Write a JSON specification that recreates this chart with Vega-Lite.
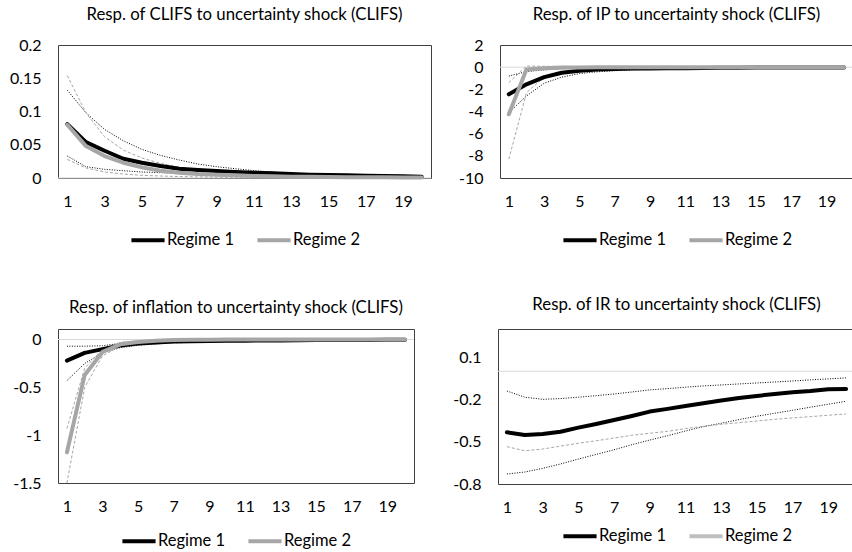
{
  "$schema": "https://vega.github.io/schema/vega-lite/v6.json",
  "padding": {"left": 0, "top": 6, "right": 0, "bottom": 0},
  "background": "#ffffff",
  "config": {
    "font": "Lato",
    "view": {"stroke": "#404040", "strokeWidth": 1},
    "style": {"cell": {"stroke": "#404040", "strokeWidth": 1}},
    "axis": {"grid": false, "ticks": false, "domain": false, "labelFont": "Lato", "labelFontSize": 16, "labelColor": "#000000"},
    "title": {"font": "Lato", "fontSize": 16.8, "fontWeight": "normal", "color": "#000000", "anchor": "middle", "frame": "group"},
    "legend": {"orient": "bottom", "direction": "horizontal", "title": null, "symbolType": "stroke", "symbolSize": 1100, "symbolStrokeWidth": 4, "labelFont": "Lato", "labelFontSize": 16.5, "labelColor": "#000000", "columnPadding": 14, "labelOffset": 0, "layout": {"bottom": {"anchor": "middle"}}}
  },
  "datasets": {
    "irf": [
      {"p": "CLIFS", "h": 1, "r1": 0.081, "r2": 0.080, "r1lo": 0.033, "r1hi": 0.132, "r2lo": 0.028, "r2hi": 0.154},
      {"p": "CLIFS", "h": 2, "r1": 0.054, "r2": 0.048, "r1lo": 0.017, "r1hi": 0.098, "r2lo": 0.015, "r2hi": 0.098},
      {"p": "CLIFS", "h": 3, "r1": 0.041, "r2": 0.033, "r1lo": 0.013, "r1hi": 0.073, "r2lo": 0.009, "r2hi": 0.062},
      {"p": "CLIFS", "h": 4, "r1": 0.029, "r2": 0.023, "r1lo": 0.011, "r1hi": 0.056, "r2lo": 0.006, "r2hi": 0.042},
      {"p": "CLIFS", "h": 5, "r1": 0.023, "r2": 0.016, "r1lo": 0.009, "r1hi": 0.043, "r2lo": 0.004, "r2hi": 0.030},
      {"p": "CLIFS", "h": 6, "r1": 0.018, "r2": 0.011, "r1lo": 0.008, "r1hi": 0.034, "r2lo": 0.003, "r2hi": 0.022},
      {"p": "CLIFS", "h": 7, "r1": 0.014, "r2": 0.008, "r1lo": 0.007, "r1hi": 0.027, "r2lo": 0.0022, "r2hi": 0.016},
      {"p": "CLIFS", "h": 8, "r1": 0.012, "r2": 0.006, "r1lo": 0.0065, "r1hi": 0.021, "r2lo": 0.0017, "r2hi": 0.012},
      {"p": "CLIFS", "h": 9, "r1": 0.0105, "r2": 0.005, "r1lo": 0.006, "r1hi": 0.017, "r2lo": 0.0013, "r2hi": 0.009},
      {"p": "CLIFS", "h": 10, "r1": 0.009, "r2": 0.004, "r1lo": 0.0055, "r1hi": 0.014, "r2lo": 0.001, "r2hi": 0.007},
      {"p": "CLIFS", "h": 11, "r1": 0.008, "r2": 0.003, "r1lo": 0.005, "r1hi": 0.011, "r2lo": 0.0008, "r2hi": 0.0055},
      {"p": "CLIFS", "h": 12, "r1": 0.007, "r2": 0.0025, "r1lo": 0.0045, "r1hi": 0.009, "r2lo": 0.0007, "r2hi": 0.0045},
      {"p": "CLIFS", "h": 13, "r1": 0.006, "r2": 0.002, "r1lo": 0.004, "r1hi": 0.007, "r2lo": 0.0006, "r2hi": 0.0035},
      {"p": "CLIFS", "h": 14, "r1": 0.005, "r2": 0.0018, "r1lo": 0.0035, "r1hi": 0.006, "r2lo": 0.0005, "r2hi": 0.003},
      {"p": "CLIFS", "h": 15, "r1": 0.0045, "r2": 0.0015, "r1lo": 0.003, "r1hi": 0.005, "r2lo": 0.0004, "r2hi": 0.0025},
      {"p": "CLIFS", "h": 16, "r1": 0.004, "r2": 0.0013, "r1lo": 0.003, "r1hi": 0.005, "r2lo": 0.0004, "r2hi": 0.002},
      {"p": "CLIFS", "h": 17, "r1": 0.0035, "r2": 0.0011, "r1lo": 0.0025, "r1hi": 0.004, "r2lo": 0.0003, "r2hi": 0.002},
      {"p": "CLIFS", "h": 18, "r1": 0.003, "r2": 0.001, "r1lo": 0.002, "r1hi": 0.004, "r2lo": 0.0003, "r2hi": 0.0015},
      {"p": "CLIFS", "h": 19, "r1": 0.0025, "r2": 0.0009, "r1lo": 0.002, "r1hi": 0.003, "r2lo": 0.0002, "r2hi": 0.0015},
      {"p": "CLIFS", "h": 20, "r1": 0.002, "r2": 0.0008, "r1lo": 0.0015, "r1hi": 0.003, "r2lo": 0.0002, "r2hi": 0.001},

      {"p": "IP", "h": 1, "r1": -2.45, "r2": -4.25, "r1lo": -4.1, "r1hi": -0.8, "r2lo": -8.3, "r2hi": -1.4},
      {"p": "IP", "h": 2, "r1": -1.55, "r2": -0.2, "r1lo": -2.6, "r1hi": -0.4, "r2lo": -2.3, "r2hi": 0.1},
      {"p": "IP", "h": 3, "r1": -0.9, "r2": -0.1, "r1lo": -1.45, "r1hi": -0.25, "r2lo": -0.9, "r2hi": 0.08},
      {"p": "IP", "h": 4, "r1": -0.5, "r2": -0.03, "r1lo": -0.9, "r1hi": -0.15, "r2lo": -0.45, "r2hi": 0.06},
      {"p": "IP", "h": 5, "r1": -0.32, "r2": -0.02, "r1lo": -0.58, "r1hi": -0.1, "r2lo": -0.3, "r2hi": 0.05},
      {"p": "IP", "h": 6, "r1": -0.22, "r2": -0.01, "r1lo": -0.42, "r1hi": -0.07, "r2lo": -0.22, "r2hi": 0.04},
      {"p": "IP", "h": 7, "r1": -0.16, "r2": -0.01, "r1lo": -0.32, "r1hi": -0.05, "r2lo": -0.16, "r2hi": 0.03},
      {"p": "IP", "h": 8, "r1": -0.13, "r2": 0, "r1lo": -0.25, "r1hi": -0.04, "r2lo": -0.12, "r2hi": 0.03},
      {"p": "IP", "h": 9, "r1": -0.11, "r2": 0, "r1lo": -0.2, "r1hi": -0.03, "r2lo": -0.1, "r2hi": 0.02},
      {"p": "IP", "h": 10, "r1": -0.1, "r2": 0, "r1lo": -0.17, "r1hi": -0.03, "r2lo": -0.08, "r2hi": 0.02},
      {"p": "IP", "h": 11, "r1": -0.09, "r2": 0, "r1lo": -0.14, "r1hi": -0.02, "r2lo": -0.07, "r2hi": 0.02},
      {"p": "IP", "h": 12, "r1": -0.07, "r2": 0, "r1lo": -0.12, "r1hi": -0.02, "r2lo": -0.06, "r2hi": 0.01},
      {"p": "IP", "h": 13, "r1": -0.06, "r2": 0, "r1lo": -0.1, "r1hi": -0.02, "r2lo": -0.05, "r2hi": 0.01},
      {"p": "IP", "h": 14, "r1": -0.05, "r2": 0, "r1lo": -0.09, "r1hi": -0.01, "r2lo": -0.04, "r2hi": 0.01},
      {"p": "IP", "h": 15, "r1": -0.04, "r2": 0, "r1lo": -0.08, "r1hi": -0.01, "r2lo": -0.04, "r2hi": 0.01},
      {"p": "IP", "h": 16, "r1": -0.035, "r2": 0, "r1lo": -0.07, "r1hi": -0.01, "r2lo": -0.03, "r2hi": 0.01},
      {"p": "IP", "h": 17, "r1": -0.03, "r2": 0, "r1lo": -0.06, "r1hi": -0.01, "r2lo": -0.03, "r2hi": 0.01},
      {"p": "IP", "h": 18, "r1": -0.025, "r2": 0, "r1lo": -0.05, "r1hi": -0.01, "r2lo": -0.02, "r2hi": 0.01},
      {"p": "IP", "h": 19, "r1": -0.02, "r2": 0, "r1lo": -0.05, "r1hi": -0.005, "r2lo": -0.02, "r2hi": 0.005},
      {"p": "IP", "h": 20, "r1": -0.02, "r2": 0, "r1lo": -0.04, "r1hi": -0.005, "r2lo": -0.02, "r2hi": 0.005},

      {"p": "INF", "h": 1, "r1": -0.22, "r2": -1.18, "r1lo": -0.43, "r1hi": -0.07, "r2lo": -1.5, "r2hi": -0.93},
      {"p": "INF", "h": 2, "r1": -0.14, "r2": -0.37, "r1lo": -0.25, "r1hi": -0.07, "r2lo": -0.5, "r2hi": -0.3},
      {"p": "INF", "h": 3, "r1": -0.1, "r2": -0.13, "r1lo": -0.14, "r1hi": -0.065, "r2lo": -0.17, "r2hi": -0.1},
      {"p": "INF", "h": 4, "r1": -0.063, "r2": -0.05, "r1lo": -0.085, "r1hi": -0.04, "r2lo": -0.07, "r2hi": -0.03},
      {"p": "INF", "h": 5, "r1": -0.042, "r2": -0.025, "r1lo": -0.06, "r1hi": -0.025, "r2lo": -0.035, "r2hi": -0.012},
      {"p": "INF", "h": 6, "r1": -0.03, "r2": -0.012, "r1lo": -0.045, "r1hi": -0.015, "r2lo": -0.018, "r2hi": -0.005},
      {"p": "INF", "h": 7, "r1": -0.022, "r2": -0.006, "r1lo": -0.035, "r1hi": -0.01, "r2lo": -0.01, "r2hi": -0.002},
      {"p": "INF", "h": 8, "r1": -0.018, "r2": -0.003, "r1lo": -0.03, "r1hi": -0.008, "r2lo": -0.006, "r2hi": -0.001},
      {"p": "INF", "h": 9, "r1": -0.015, "r2": -0.002, "r1lo": -0.025, "r1hi": -0.006, "r2lo": -0.004, "r2hi": 0},
      {"p": "INF", "h": 10, "r1": -0.013, "r2": -0.001, "r1lo": -0.02, "r1hi": -0.005, "r2lo": -0.003, "r2hi": 0},
      {"p": "INF", "h": 11, "r1": -0.012, "r2": 0, "r1lo": -0.018, "r1hi": -0.005, "r2lo": -0.002, "r2hi": 0},
      {"p": "INF", "h": 12, "r1": -0.011, "r2": 0, "r1lo": -0.016, "r1hi": -0.004, "r2lo": -0.002, "r2hi": 0},
      {"p": "INF", "h": 13, "r1": -0.01, "r2": 0, "r1lo": -0.014, "r1hi": -0.004, "r2lo": -0.001, "r2hi": 0},
      {"p": "INF", "h": 14, "r1": -0.008, "r2": 0, "r1lo": -0.012, "r1hi": -0.003, "r2lo": -0.001, "r2hi": 0},
      {"p": "INF", "h": 15, "r1": -0.006, "r2": 0, "r1lo": -0.01, "r1hi": -0.003, "r2lo": -0.001, "r2hi": 0},
      {"p": "INF", "h": 16, "r1": -0.005, "r2": 0, "r1lo": -0.009, "r1hi": -0.002, "r2lo": 0, "r2hi": 0},
      {"p": "INF", "h": 17, "r1": -0.004, "r2": 0, "r1lo": -0.008, "r1hi": -0.002, "r2lo": 0, "r2hi": 0},
      {"p": "INF", "h": 18, "r1": -0.004, "r2": 0, "r1lo": -0.007, "r1hi": -0.002, "r2lo": 0, "r2hi": 0},
      {"p": "INF", "h": 19, "r1": -0.003, "r2": 0, "r1lo": -0.006, "r1hi": -0.001, "r2lo": 0, "r2hi": 0},
      {"p": "INF", "h": 20, "r1": -0.003, "r2": 0, "r1lo": -0.005, "r1hi": -0.001, "r2lo": 0, "r2hi": 0},

      {"p": "IR", "h": 1, "r1": -0.433, "r1lo": -0.729, "r1hi": -0.14, "r2lo": -0.535},
      {"p": "IR", "h": 2, "r1": -0.452, "r1lo": -0.715, "r1hi": -0.184, "r2lo": -0.564},
      {"p": "IR", "h": 3, "r1": -0.445, "r1lo": -0.689, "r1hi": -0.199, "r2lo": -0.552},
      {"p": "IR", "h": 4, "r1": -0.429, "r1lo": -0.658, "r1hi": -0.194, "r2lo": -0.531},
      {"p": "IR", "h": 5, "r1": -0.4, "r1lo": -0.623, "r1hi": -0.184, "r2lo": -0.511},
      {"p": "IR", "h": 6, "r1": -0.374, "r1lo": -0.59, "r1hi": -0.173, "r2lo": -0.493},
      {"p": "IR", "h": 7, "r1": -0.346, "r1lo": -0.557, "r1hi": -0.161, "r2lo": -0.474},
      {"p": "IR", "h": 8, "r1": -0.317, "r1lo": -0.521, "r1hi": -0.147, "r2lo": -0.454},
      {"p": "IR", "h": 9, "r1": -0.286, "r1lo": -0.488, "r1hi": -0.132, "r2lo": -0.44},
      {"p": "IR", "h": 10, "r1": -0.267, "r1lo": -0.457, "r1hi": -0.123, "r2lo": -0.426},
      {"p": "IR", "h": 11, "r1": -0.246, "r1lo": -0.424, "r1hi": -0.113, "r2lo": -0.407},
      {"p": "IR", "h": 12, "r1": -0.227, "r1lo": -0.393, "r1hi": -0.104, "r2lo": -0.391},
      {"p": "IR", "h": 13, "r1": -0.208, "r1lo": -0.369, "r1hi": -0.097, "r2lo": -0.376},
      {"p": "IR", "h": 14, "r1": -0.189, "r1lo": -0.343, "r1hi": -0.09, "r2lo": -0.365},
      {"p": "IR", "h": 15, "r1": -0.175, "r1lo": -0.319, "r1hi": -0.083, "r2lo": -0.353},
      {"p": "IR", "h": 16, "r1": -0.161, "r1lo": -0.298, "r1hi": -0.076, "r2lo": -0.341},
      {"p": "IR", "h": 17, "r1": -0.149, "r1lo": -0.277, "r1hi": -0.069, "r2lo": -0.331},
      {"p": "IR", "h": 18, "r1": -0.14, "r1lo": -0.255, "r1hi": -0.061, "r2lo": -0.322},
      {"p": "IR", "h": 19, "r1": -0.128, "r1lo": -0.234, "r1hi": -0.054, "r2lo": -0.312},
      {"p": "IR", "h": 20, "r1": -0.125, "r1lo": -0.213, "r1hi": -0.047, "r2lo": -0.303}
    ]
  },
  "resolve": {"scale": {"color": "independent", "x": "independent", "y": "independent"}, "legend": {"color": "independent"}},
  "spacing": 46,
  "vconcat": [
    {
      "spacing": 22,
      "resolve": {"scale": {"color": "independent", "x": "independent", "y": "independent"}, "legend": {"color": "independent"}},
      "hconcat": [
        {
          "width": 373, "height": 133,
          "view": {"stroke": "#404040", "strokeWidth": 1},
          "title": {"text": "Resp. of CLIFS to uncertainty shock (CLIFS)", "offset": 13, "fontSize": 16.8, "font": "Lato", "fontWeight": "normal", "color": "#000000", "anchor": "middle", "frame": "group"},
          "data": {"name": "irf"},
          "transform": [{"filter": "datum.p === 'CLIFS'"}, {"fold": ["r1", "r2", "r1lo", "r1hi", "r2lo", "r2hi"], "as": ["s", "v"]}],
          "layer": [
            {"transform": [{"filter": "datum.h === 1 && datum.s === 'r1'"}],
             "mark": {"type": "rule", "color": "#d9d9d9", "strokeWidth": 1},
             "encoding": {"y": {"datum": 0, "type": "quantitative", "scale": {"domain": [0, 0.2], "nice": false, "zero": false}, "axis": {"title": null, "values": [0, 0.05, 0.1, 0.15, 0.2], "labelPadding": 17, "minExtent": 57, "maxExtent": 57, "labelExpr": "'' + datum.value"}}}},
            {"transform": [{"filter": "datum.s === 'r1lo' || datum.s === 'r1hi'"}],
             "mark": {"type": "line", "color": "#000000", "strokeWidth": 1, "strokeDash": [1, 1.5]},
             "encoding": {
               "x": {"field": "h", "type": "quantitative", "scale": {"domain": [0.5, 20.5], "nice": false, "zero": false}, "axis": {"title": null, "values": [1, 3, 5, 7, 9, 11, 13, 15, 17, 19], "labelPadding": 15, "labelFlush": false, "minExtent": 30, "maxExtent": 30}},
               "y": {"field": "v", "type": "quantitative", "scale": {"domain": [0, 0.2], "nice": false, "zero": false}, "axis": {"title": null, "values": [0, 0.05, 0.1, 0.15, 0.2], "labelPadding": 17, "minExtent": 57, "maxExtent": 57, "labelExpr": "'' + datum.value"}},
               "detail": {"field": "s", "type": "nominal"}}},
            {"transform": [{"filter": "datum.s === 'r2lo' || datum.s === 'r2hi'"}],
             "mark": {"type": "line", "color": "#a6a6a6", "strokeWidth": 1, "strokeDash": [3, 2]},
             "encoding": {
               "x": {"field": "h", "type": "quantitative", "scale": {"domain": [0.5, 20.5], "nice": false, "zero": false}, "axis": {"title": null, "values": [1, 3, 5, 7, 9, 11, 13, 15, 17, 19], "labelPadding": 15, "labelFlush": false, "minExtent": 30, "maxExtent": 30}},
               "y": {"field": "v", "type": "quantitative", "scale": {"domain": [0, 0.2], "nice": false, "zero": false}, "axis": {"title": null, "values": [0, 0.05, 0.1, 0.15, 0.2], "labelPadding": 17, "minExtent": 57, "maxExtent": 57, "labelExpr": "'' + datum.value"}},
               "detail": {"field": "s", "type": "nominal"}}},
            {"transform": [{"filter": "datum.s === 'r1' || datum.s === 'r2'"}],
             "mark": {"type": "line", "strokeWidth": 4, "strokeCap": "round", "strokeJoin": "round"},
             "encoding": {
               "x": {"field": "h", "type": "quantitative", "scale": {"domain": [0.5, 20.5], "nice": false, "zero": false}, "axis": {"title": null, "values": [1, 3, 5, 7, 9, 11, 13, 15, 17, 19], "labelPadding": 15, "labelFlush": false, "minExtent": 30, "maxExtent": 30}},
               "y": {"field": "v", "type": "quantitative", "scale": {"domain": [0, 0.2], "nice": false, "zero": false}, "axis": {"title": null, "values": [0, 0.05, 0.1, 0.15, 0.2], "labelPadding": 17, "minExtent": 57, "maxExtent": 57, "labelExpr": "'' + datum.value"}},
               "color": {"field": "s", "type": "nominal", "scale": {"domain": ["r1", "r2"], "range": ["#000000", "#a6a6a6"]}, "legend": {"offset": 12, "labelExpr": "datum.label === 'r1' ? 'Regime 1' : 'Regime 2'"}}}}
          ]
        },
        {
          "width": 353, "height": 133,
          "view": {"stroke": "#404040", "strokeWidth": 1},
          "title": {"text": "Resp. of IP to uncertainty shock (CLIFS)", "offset": 13, "fontSize": 16.8, "font": "Lato", "fontWeight": "normal", "color": "#000000", "anchor": "middle", "frame": "group"},
          "data": {"name": "irf"},
          "transform": [{"filter": "datum.p === 'IP'"}, {"fold": ["r1", "r2", "r1lo", "r1hi", "r2lo", "r2hi"], "as": ["s", "v"]}],
          "layer": [
            {"transform": [{"filter": "datum.h === 1 && datum.s === 'r1'"}],
             "mark": {"type": "rule", "color": "#d9d9d9", "strokeWidth": 1},
             "encoding": {"y": {"datum": 0, "type": "quantitative", "scale": {"domain": [-10, 2], "nice": false, "zero": false}, "axis": {"title": null, "values": [-10, -8, -6, -4, -2, 0, 2], "labelPadding": 17, "minExtent": 45, "maxExtent": 45, "labelExpr": "'' + datum.value"}}}},
            {"transform": [{"filter": "datum.s === 'r1lo' || datum.s === 'r1hi'"}],
             "mark": {"type": "line", "color": "#000000", "strokeWidth": 1, "strokeDash": [1, 1.5]},
             "encoding": {
               "x": {"field": "h", "type": "quantitative", "scale": {"domain": [0.5, 20.5], "nice": false, "zero": false}, "axis": {"title": null, "values": [1, 3, 5, 7, 9, 11, 13, 15, 17, 19], "labelPadding": 15, "labelFlush": false, "minExtent": 30, "maxExtent": 30}},
               "y": {"field": "v", "type": "quantitative", "scale": {"domain": [-10, 2], "nice": false, "zero": false}, "axis": {"title": null, "values": [-10, -8, -6, -4, -2, 0, 2], "labelPadding": 17, "minExtent": 45, "maxExtent": 45, "labelExpr": "'' + datum.value"}},
               "detail": {"field": "s", "type": "nominal"}}},
            {"transform": [{"filter": "datum.s === 'r2lo' || datum.s === 'r2hi'"}],
             "mark": {"type": "line", "color": "#a6a6a6", "strokeWidth": 1, "strokeDash": [3, 2]},
             "encoding": {
               "x": {"field": "h", "type": "quantitative", "scale": {"domain": [0.5, 20.5], "nice": false, "zero": false}, "axis": {"title": null, "values": [1, 3, 5, 7, 9, 11, 13, 15, 17, 19], "labelPadding": 15, "labelFlush": false, "minExtent": 30, "maxExtent": 30}},
               "y": {"field": "v", "type": "quantitative", "scale": {"domain": [-10, 2], "nice": false, "zero": false}, "axis": {"title": null, "values": [-10, -8, -6, -4, -2, 0, 2], "labelPadding": 17, "minExtent": 45, "maxExtent": 45, "labelExpr": "'' + datum.value"}},
               "detail": {"field": "s", "type": "nominal"}}},
            {"transform": [{"filter": "datum.s === 'r1' || datum.s === 'r2'"}],
             "mark": {"type": "line", "strokeWidth": 4, "strokeCap": "round", "strokeJoin": "round"},
             "encoding": {
               "x": {"field": "h", "type": "quantitative", "scale": {"domain": [0.5, 20.5], "nice": false, "zero": false}, "axis": {"title": null, "values": [1, 3, 5, 7, 9, 11, 13, 15, 17, 19], "labelPadding": 15, "labelFlush": false, "minExtent": 30, "maxExtent": 30}},
               "y": {"field": "v", "type": "quantitative", "scale": {"domain": [-10, 2], "nice": false, "zero": false}, "axis": {"title": null, "values": [-10, -8, -6, -4, -2, 0, 2], "labelPadding": 17, "minExtent": 45, "maxExtent": 45, "labelExpr": "'' + datum.value"}},
               "color": {"field": "s", "type": "nominal", "scale": {"domain": ["r1", "r2"], "range": ["#000000", "#a6a6a6"]}, "legend": {"offset": 12, "labelExpr": "datum.label === 'r1' ? 'Regime 1' : 'Regime 2'"}}}}
          ]
        }
      ]
    },
    {
      "spacing": 37,
      "resolve": {"scale": {"color": "independent", "x": "independent", "y": "independent"}, "legend": {"color": "independent"}},
      "hconcat": [
        {
          "width": 356, "height": 154,
          "view": {"stroke": "#404040", "strokeWidth": 1},
          "title": {"text": "Resp. of inflation to uncertainty shock (CLIFS)", "offset": 12, "fontSize": 16.8, "font": "Lato", "fontWeight": "normal", "color": "#000000", "anchor": "middle", "frame": "group"},
          "data": {"name": "irf"},
          "transform": [{"filter": "datum.p === 'INF'"}, {"fold": ["r1", "r2", "r1lo", "r1hi", "r2lo", "r2hi"], "as": ["s", "v"]}],
          "layer": [
            {"transform": [{"filter": "datum.h === 1 && datum.s === 'r1'"}],
             "mark": {"type": "rule", "color": "#d9d9d9", "strokeWidth": 1},
             "encoding": {"y": {"datum": 0, "type": "quantitative", "scale": {"domain": [-1.5, 0.11], "nice": false, "zero": false}, "axis": {"title": null, "values": [-1.5, -1, -0.5, 0], "labelPadding": 17, "minExtent": 57, "maxExtent": 57, "labelExpr": "'' + datum.value"}}}},
            {"transform": [{"filter": "datum.s === 'r1lo' || datum.s === 'r1hi'"}],
             "mark": {"type": "line", "color": "#000000", "strokeWidth": 1, "strokeDash": [1, 1.5], "clip": true},
             "encoding": {
               "x": {"field": "h", "type": "quantitative", "scale": {"domain": [0.5, 20.5], "nice": false, "zero": false}, "axis": {"title": null, "values": [1, 3, 5, 7, 9, 11, 13, 15, 17, 19], "labelPadding": 15, "labelFlush": false, "minExtent": 30, "maxExtent": 30}},
               "y": {"field": "v", "type": "quantitative", "scale": {"domain": [-1.5, 0.11], "nice": false, "zero": false}, "axis": {"title": null, "values": [-1.5, -1, -0.5, 0], "labelPadding": 17, "minExtent": 57, "maxExtent": 57, "labelExpr": "'' + datum.value"}},
               "detail": {"field": "s", "type": "nominal"}}},
            {"transform": [{"filter": "datum.s === 'r2lo' || datum.s === 'r2hi'"}],
             "mark": {"type": "line", "color": "#a6a6a6", "strokeWidth": 1, "strokeDash": [3, 2], "clip": true},
             "encoding": {
               "x": {"field": "h", "type": "quantitative", "scale": {"domain": [0.5, 20.5], "nice": false, "zero": false}, "axis": {"title": null, "values": [1, 3, 5, 7, 9, 11, 13, 15, 17, 19], "labelPadding": 15, "labelFlush": false, "minExtent": 30, "maxExtent": 30}},
               "y": {"field": "v", "type": "quantitative", "scale": {"domain": [-1.5, 0.11], "nice": false, "zero": false}, "axis": {"title": null, "values": [-1.5, -1, -0.5, 0], "labelPadding": 17, "minExtent": 57, "maxExtent": 57, "labelExpr": "'' + datum.value"}},
               "detail": {"field": "s", "type": "nominal"}}},
            {"transform": [{"filter": "datum.s === 'r1' || datum.s === 'r2'"}],
             "mark": {"type": "line", "strokeWidth": 4, "strokeCap": "round", "strokeJoin": "round"},
             "encoding": {
               "x": {"field": "h", "type": "quantitative", "scale": {"domain": [0.5, 20.5], "nice": false, "zero": false}, "axis": {"title": null, "values": [1, 3, 5, 7, 9, 11, 13, 15, 17, 19], "labelPadding": 15, "labelFlush": false, "minExtent": 30, "maxExtent": 30}},
               "y": {"field": "v", "type": "quantitative", "scale": {"domain": [-1.5, 0.11], "nice": false, "zero": false}, "axis": {"title": null, "values": [-1.5, -1, -0.5, 0], "labelPadding": 17, "minExtent": 57, "maxExtent": 57, "labelExpr": "'' + datum.value"}},
               "color": {"field": "s", "type": "nominal", "scale": {"domain": ["r1", "r2"], "range": ["#000000", "#a6a6a6"]}, "legend": {"offset": 7.5, "labelExpr": "datum.label === 'r1' ? 'Regime 1' : 'Regime 2'"}}}}
          ]
        },
        {
          "width": 357, "height": 155,
          "view": {"stroke": "#404040", "strokeWidth": 1},
          "title": {"text": "Resp. of IR to uncertainty shock (CLIFS)", "offset": 15.5, "fontSize": 16.8, "font": "Lato", "fontWeight": "normal", "color": "#000000", "anchor": "middle", "frame": "group"},
          "data": {"name": "irf"},
          "transform": [{"filter": "datum.p === 'IR'"}, {"fold": ["r1", "r2", "r1lo", "r1hi", "r2lo", "r2hi"], "as": ["s", "v"]}],
          "layer": [
            {"transform": [{"filter": "datum.h === 1 && datum.s === 'r1'"}],
             "mark": {"type": "rule", "color": "#d9d9d9", "strokeWidth": 1},
             "encoding": {"y": {"datum": 0, "type": "quantitative", "scale": {"domain": [-0.8, 0.3], "nice": false, "zero": false}, "axis": {"title": null, "values": [-0.8, -0.5, -0.2, 0.1], "labelPadding": 17, "minExtent": 45, "maxExtent": 45, "labelExpr": "'' + datum.value"}}}},
            {"transform": [{"filter": "datum.s === 'r1lo' || datum.s === 'r1hi'"}],
             "mark": {"type": "line", "color": "#000000", "strokeWidth": 1, "strokeDash": [1, 1.5]},
             "encoding": {
               "x": {"field": "h", "type": "quantitative", "scale": {"domain": [0.5, 20.5], "nice": false, "zero": false}, "axis": {"title": null, "values": [1, 3, 5, 7, 9, 11, 13, 15, 17, 19], "labelPadding": 15, "labelFlush": false, "minExtent": 30, "maxExtent": 30}},
               "y": {"field": "v", "type": "quantitative", "scale": {"domain": [-0.8, 0.3], "nice": false, "zero": false}, "axis": {"title": null, "values": [-0.8, -0.5, -0.2, 0.1], "labelPadding": 17, "minExtent": 45, "maxExtent": 45, "labelExpr": "'' + datum.value"}},
               "detail": {"field": "s", "type": "nominal"}}},
            {"transform": [{"filter": "datum.s === 'r2lo' || datum.s === 'r2hi'"}],
             "mark": {"type": "line", "color": "#a6a6a6", "strokeWidth": 1, "strokeDash": [3, 2]},
             "encoding": {
               "x": {"field": "h", "type": "quantitative", "scale": {"domain": [0.5, 20.5], "nice": false, "zero": false}, "axis": {"title": null, "values": [1, 3, 5, 7, 9, 11, 13, 15, 17, 19], "labelPadding": 15, "labelFlush": false, "minExtent": 30, "maxExtent": 30}},
               "y": {"field": "v", "type": "quantitative", "scale": {"domain": [-0.8, 0.3], "nice": false, "zero": false}, "axis": {"title": null, "values": [-0.8, -0.5, -0.2, 0.1], "labelPadding": 17, "minExtent": 45, "maxExtent": 45, "labelExpr": "'' + datum.value"}},
               "detail": {"field": "s", "type": "nominal"}}},
            {"transform": [{"filter": "datum.s === 'r1' || datum.s === 'r2'"}],
             "mark": {"type": "line", "strokeWidth": 4, "strokeCap": "round", "strokeJoin": "round"},
             "encoding": {
               "x": {"field": "h", "type": "quantitative", "scale": {"domain": [0.5, 20.5], "nice": false, "zero": false}, "axis": {"title": null, "values": [1, 3, 5, 7, 9, 11, 13, 15, 17, 19], "labelPadding": 15, "labelFlush": false, "minExtent": 30, "maxExtent": 30}},
               "y": {"field": "v", "type": "quantitative", "scale": {"domain": [-0.8, 0.3], "nice": false, "zero": false}, "axis": {"title": null, "values": [-0.8, -0.5, -0.2, 0.1], "labelPadding": 17, "minExtent": 45, "maxExtent": 45, "labelExpr": "'' + datum.value"}},
               "color": {"field": "s", "type": "nominal", "scale": {"domain": ["r1", "r2"], "range": ["#000000", "#bfbfbf"]}, "legend": {"offset": 2, "labelExpr": "datum.label === 'r1' ? 'Regime 1' : 'Regime 2'"}}}}
          ]
        }
      ]
    }
  ]
}
